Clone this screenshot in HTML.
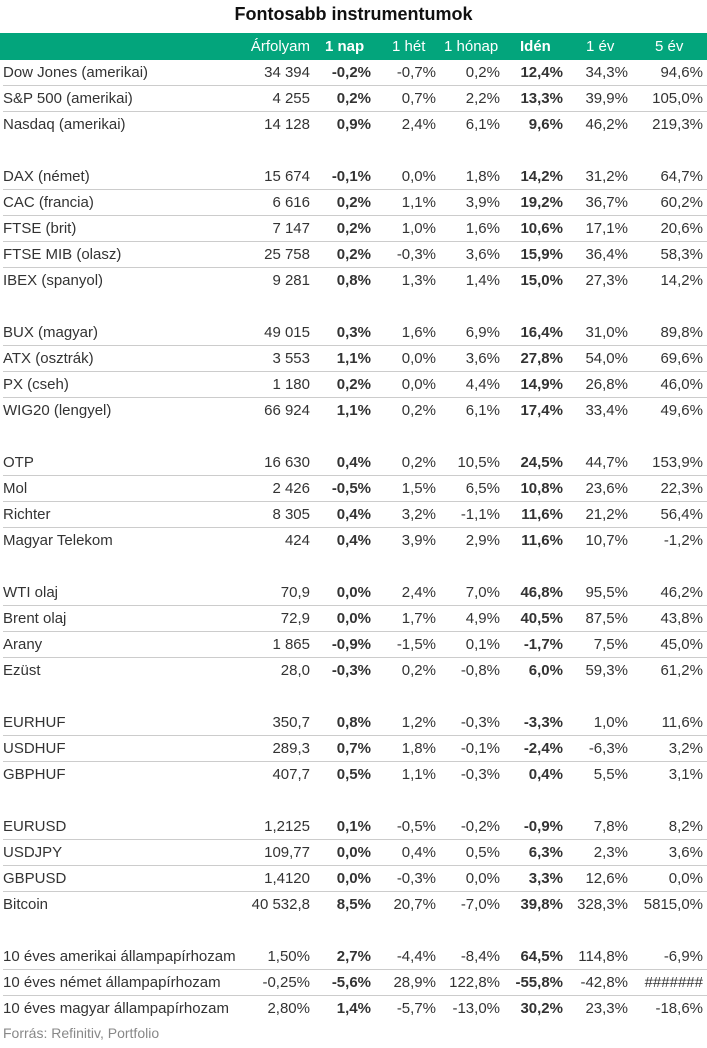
<!DOCTYPE html>
<html><head><meta charset="utf-8">
<style>
body{margin:0;width:707px;height:1048px;background:#fff;font-family:"Liberation Sans",Arial,sans-serif;color:#333;position:relative;overflow:hidden}
.title{position:absolute;top:4px;left:0;width:707px;text-align:center;font-weight:bold;font-size:18px;color:#111}
.hdr{position:absolute;top:33px;left:0;width:707px;height:27px;background:#03a57c;color:#fff}
.row{position:absolute;left:0;width:707px;height:26px;font-size:15px}
.c{position:absolute;top:0;line-height:26px;white-space:nowrap}
.r{text-align:right}
.sep{position:absolute;left:3px;right:0;bottom:0;border-bottom:1px solid #ccc}
.b{font-weight:bold}
.src{position:absolute;top:1025px;left:3px;font-size:14px;color:#888}
</style></head><body>
<div class="title">Fontosabb instrumentumok</div>
<div class="hdr row" id="hdr" style="top:33px;height:27px"></div>
<div id="tbl"></div>
<div class="src">Forrás: Refinitiv, Portfolio</div>
<script>
const headers=["","Árfolyam","1 nap","1 hét","1 hónap","Idén","1 év","5 év"];
const groups=[
[["Dow Jones (amerikai)","34 394","-0,2%","-0,7%","0,2%","12,4%","34,3%","94,6%"],
["S&P 500 (amerikai)","4 255","0,2%","0,7%","2,2%","13,3%","39,9%","105,0%"],
["Nasdaq (amerikai)","14 128","0,9%","2,4%","6,1%","9,6%","46,2%","219,3%"]],
[["DAX (német)","15 674","-0,1%","0,0%","1,8%","14,2%","31,2%","64,7%"],
["CAC (francia)","6 616","0,2%","1,1%","3,9%","19,2%","36,7%","60,2%"],
["FTSE (brit)","7 147","0,2%","1,0%","1,6%","10,6%","17,1%","20,6%"],
["FTSE MIB (olasz)","25 758","0,2%","-0,3%","3,6%","15,9%","36,4%","58,3%"],
["IBEX (spanyol)","9 281","0,8%","1,3%","1,4%","15,0%","27,3%","14,2%"]],
[["BUX (magyar)","49 015","0,3%","1,6%","6,9%","16,4%","31,0%","89,8%"],
["ATX (osztrák)","3 553","1,1%","0,0%","3,6%","27,8%","54,0%","69,6%"],
["PX (cseh)","1 180","0,2%","0,0%","4,4%","14,9%","26,8%","46,0%"],
["WIG20 (lengyel)","66 924","1,1%","0,2%","6,1%","17,4%","33,4%","49,6%"]],
[["OTP","16 630","0,4%","0,2%","10,5%","24,5%","44,7%","153,9%"],
["Mol","2 426","-0,5%","1,5%","6,5%","10,8%","23,6%","22,3%"],
["Richter","8 305","0,4%","3,2%","-1,1%","11,6%","21,2%","56,4%"],
["Magyar Telekom","424","0,4%","3,9%","2,9%","11,6%","10,7%","-1,2%"]],
[["WTI olaj","70,9","0,0%","2,4%","7,0%","46,8%","95,5%","46,2%"],
["Brent olaj","72,9","0,0%","1,7%","4,9%","40,5%","87,5%","43,8%"],
["Arany","1 865","-0,9%","-1,5%","0,1%","-1,7%","7,5%","45,0%"],
["Ezüst","28,0","-0,3%","0,2%","-0,8%","6,0%","59,3%","61,2%"]],
[["EURHUF","350,7","0,8%","1,2%","-0,3%","-3,3%","1,0%","11,6%"],
["USDHUF","289,3","0,7%","1,8%","-0,1%","-2,4%","-6,3%","3,2%"],
["GBPHUF","407,7","0,5%","1,1%","-0,3%","0,4%","5,5%","3,1%"]],
[["EURUSD","1,2125","0,1%","-0,5%","-0,2%","-0,9%","7,8%","8,2%"],
["USDJPY","109,77","0,0%","0,4%","0,5%","6,3%","2,3%","3,6%"],
["GBPUSD","1,4120","0,0%","-0,3%","0,0%","3,3%","12,6%","0,0%"],
["Bitcoin","40 532,8","8,5%","20,7%","-7,0%","39,8%","328,3%","5815,0%"]],
[["10 éves amerikai állampapírhozam","1,50%","2,7%","-4,4%","-8,4%","64,5%","114,8%","-6,9%"],
["10 éves német állampapírhozam","-0,25%","-5,6%","28,9%","122,8%","-55,8%","-42,8%","#######"],
["10 éves magyar állampapírhozam","2,80%","1,4%","-5,7%","-13,0%","30,2%","23,3%","-18,6%"]]
];
const rights=[0,310,371,436,500,563,628,703];
const hdrLefts=[0,0,325,392,444,520,586,655];
const bold=[false,false,true,false,false,true,false,false];
function cells(parent,vals,isHdr){
  vals.forEach((v,i)=>{
    const d=document.createElement('div');
    d.className='c'+(bold[i]?' b':'');
    if(i===0){d.style.left='3px';}
    else if(isHdr&&i>1){d.style.left=hdrLefts[i]+'px';}
    else{d.className+=' r';d.style.right=(707-rights[i])+'px';}
    d.textContent=v;
    
    
    parent.appendChild(d);
  });
}
const hdr=document.getElementById('hdr');
cells(hdr,headers,true);
hdr.querySelectorAll('.c').forEach(c=>c.style.lineHeight='27px');
const tbl=document.getElementById('tbl');
let slot=0;
groups.forEach((g,gi)=>{
  g.forEach((r,ri)=>{
    const row=document.createElement('div');
    row.className='row';
    row.style.top=(60+26*slot)+'px';
    
    
    cells(row,r,false);
    if(ri<g.length-1){const s=document.createElement('div');s.className='sep';row.appendChild(s);}
    tbl.appendChild(row);
    slot++;
  });
  slot++;
});
</script>
</body></html>
